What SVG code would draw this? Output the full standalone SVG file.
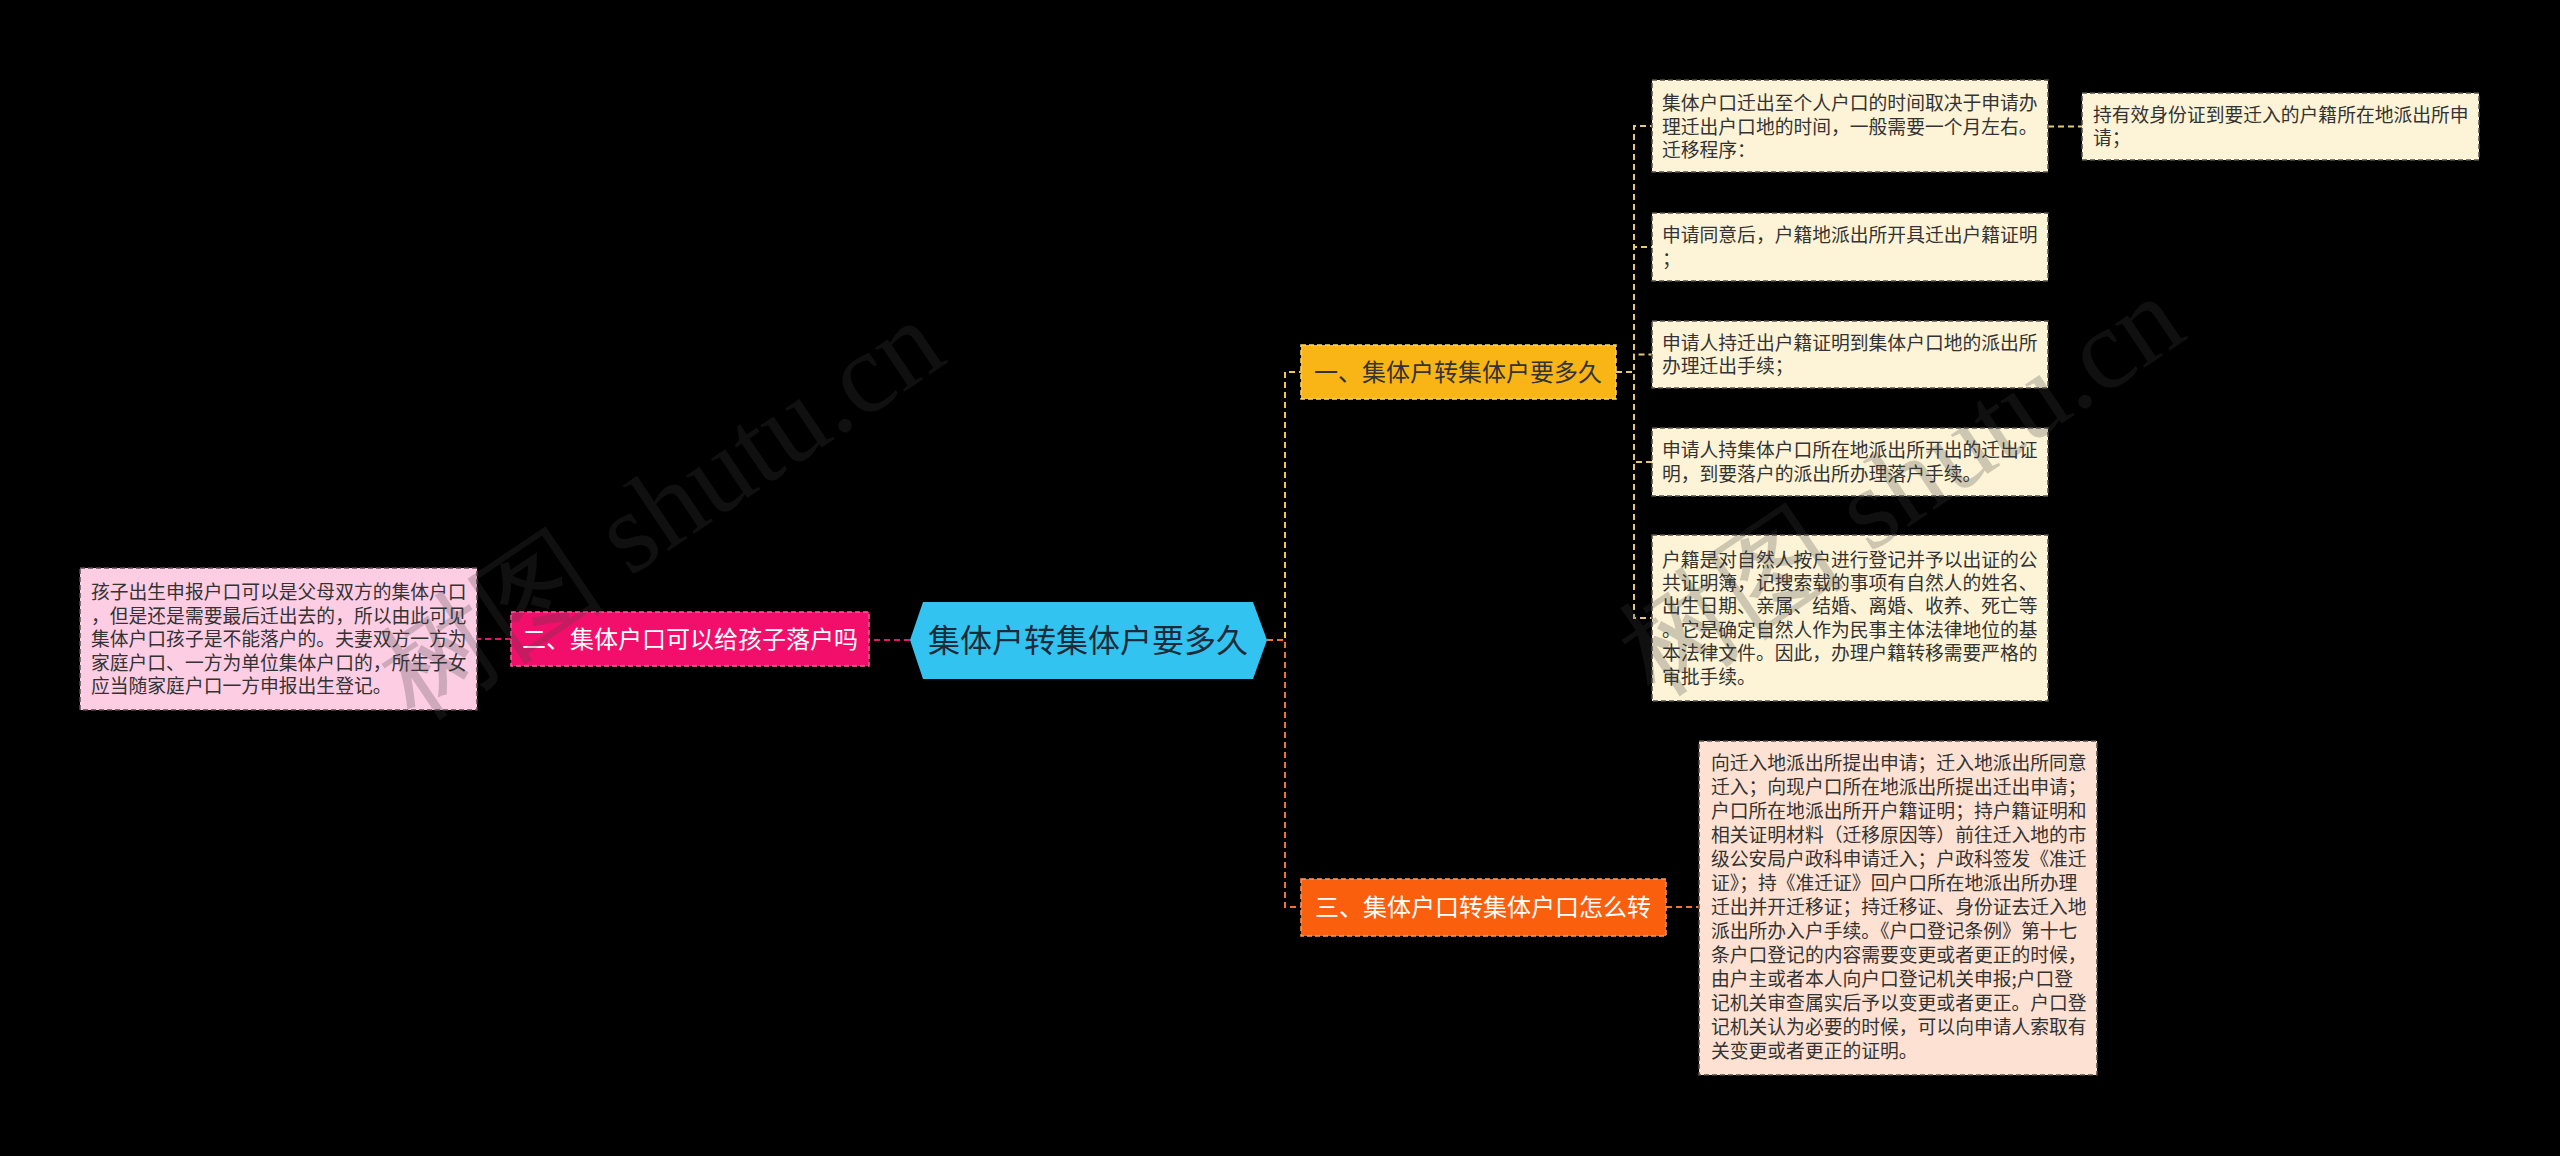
<svg xmlns="http://www.w3.org/2000/svg" width="2560" height="1156" viewBox="0 0 2560 1156">
<style>
.t{font-family:"Noto Sans CJK SC","Noto Sans",sans-serif;}
.leaf{font-size:18.8px;fill:#333333;}
.node{font-size:24px;text-anchor:middle;}
.lf-y{fill:#fdf3d6;stroke:#555048;stroke-width:1.5;stroke-dasharray:5 3;}
.lf-o{fill:#fde1d2;stroke:#5a4a44;stroke-width:1.5;stroke-dasharray:5 3;}
.lf-p{fill:#fdcde4;stroke:#5a4a50;stroke-width:1.5;stroke-dasharray:5 3;}
.c{fill:none;stroke-width:2;stroke-dasharray:6 4;}
.cy{stroke:#f2c744;}
.cl{stroke:#e6c777;}
.co{stroke:#ef7433;}
.cp{stroke:#e3186c;}
.wm{font-family:"Liberation Serif",serif;font-size:115px;fill:#404040;fill-opacity:0.25;}
</style>
<rect x="0" y="0" width="2560" height="1156" fill="#000000"/>
<g id="connectors">
<path class="c cp" d="M910,640 H869"/>
<path class="c cp" d="M511,639 H477"/>
<path class="c cy" d="M1267,640 H1285 V372 H1301"/>
<path class="c co" d="M1267,640 H1285 V907 H1301"/>
<path class="c cl" d="M1616,372 H1634 V126 H1652"/>
<path class="c cl" d="M1616,372 H1634 V247 H1652"/>
<path class="c cl" d="M1616,372 H1634 V354.5 H1652"/>
<path class="c cl" d="M1616,372 H1634 V462 H1652"/>
<path class="c cl" d="M1616,372 H1634 V618 H1652"/>
<path class="c cl" d="M2048,126.5 H2082"/>
<path class="c co" d="M1666,907 H1699"/>
</g>
<g id="root">
<polygon points="910,640 923,602 1253,602 1267,640 1253,679 923,679" fill="#33c3f1"/>
<text class="t" x="1088" y="652" font-size="32" text-anchor="middle" fill="#1b2b3a">集体户转集体户要多久</text>
</g>
<g id="n2">
<rect x="511" y="612" width="358" height="54" fill="#f20f6b" stroke="#ff5e9e" stroke-width="1.5" stroke-dasharray="5 3"/>
<text class="t node" x="690" y="648" fill="#ffffff">二、集体户口可以给孩子落户吗</text>
</g>
<g id="n2-leaf">
<rect class="lf-p" x="80" y="568" width="397" height="142"/>
<text class="t leaf" x="91"><tspan x="91" y="599">孩子出生申报户口可以是父母双方的集体户口</tspan><tspan x="91" y="622.5">，但是还是需要最后迁出去的，所以由此可见</tspan><tspan x="91" y="646">集体户口孩子是不能落户的。夫妻双方一方为</tspan><tspan x="91" y="669.5">家庭户口、一方为单位集体户口的，所生子女</tspan><tspan x="91" y="693">应当随家庭户口一方申报出生登记。</tspan></text>
</g>
<g id="n1">
<rect x="1301" y="345" width="315" height="54" fill="#f8b515" stroke="#ffd86a" stroke-width="1.5" stroke-dasharray="5 3"/>
<text class="t node" x="1458" y="381" fill="#333333">一、集体户转集体户要多久</text>
</g>
<g id="n3">
<rect x="1301" y="879" width="365" height="57" fill="#fa5f0e" stroke="#ff9a5e" stroke-width="1.5" stroke-dasharray="5 3"/>
<text class="t node" x="1483" y="916" fill="#ffffff">三、集体户口转集体户口怎么转</text>
</g>
<g id="l1">
<rect class="lf-y" x="1652" y="80" width="396" height="92"/>
<text class="t leaf"><tspan x="1662" y="110">集体户口迁出至个人户口的时间取决于申请办</tspan><tspan x="1662" y="133.5">理迁出户口地的时间，一般需要一个月左右。</tspan><tspan x="1662" y="157">迁移程序：</tspan></text>
</g>
<g id="l1c">
<rect class="lf-y" x="2082" y="93" width="397" height="67"/>
<text class="t leaf"><tspan x="2093" y="121.8">持有效身份证到要迁入的户籍所在地派出所申</tspan><tspan x="2093" y="145.2">请；</tspan></text>
</g>
<g id="l2">
<rect class="lf-y" x="1652" y="213" width="396" height="68"/>
<text class="t leaf"><tspan x="1662" y="242.3">申请同意后，户籍地派出所开具迁出户籍证明</tspan><tspan x="1662" y="265.7">；</tspan></text>
</g>
<g id="l3">
<rect class="lf-y" x="1652" y="321" width="396" height="67"/>
<text class="t leaf"><tspan x="1662" y="349.8">申请人持迁出户籍证明到集体户口地的派出所</tspan><tspan x="1662" y="373.2">办理迁出手续；</tspan></text>
</g>
<g id="l4">
<rect class="lf-y" x="1652" y="428" width="396" height="68"/>
<text class="t leaf"><tspan x="1662" y="457.3">申请人持集体户口所在地派出所开出的迁出证</tspan><tspan x="1662" y="480.7">明，到要落户的派出所办理落户手续。</tspan></text>
</g>
<g id="l5">
<rect class="lf-y" x="1652" y="535" width="396" height="166"/>
<text class="t leaf"><tspan x="1662" y="566.5">户籍是对自然人按户进行登记并予以出证的公</tspan><tspan x="1662" y="589.9">共证明簿，记搜索载的事项有自然人的姓名、</tspan><tspan x="1662" y="613.3">出生日期、亲属、结婚、离婚、收养、死亡等</tspan><tspan x="1662" y="636.7">。它是确定自然人作为民事主体法律地位的基</tspan><tspan x="1662" y="660.1">本法律文件。因此，办理户籍转移需要严格的</tspan><tspan x="1662" y="683.5">审批手续。</tspan></text>
</g>
<g id="l3-leaf">
<rect class="lf-o" x="1699" y="741" width="398" height="334"/>
<text class="t leaf"><tspan x="1711" y="770">向迁入地派出所提出申请；迁入地派出所同意</tspan><tspan x="1711" y="794">迁入；向现户口所在地派出所提出迁出申请；</tspan><tspan x="1711" y="818">户口所在地派出所开户籍证明；持户籍证明和</tspan><tspan x="1711" y="842">相关证明材料（迁移原因等）前往迁入地的市</tspan><tspan x="1711" y="866">级公安局户政科申请迁入；户政科签发《准迁</tspan><tspan x="1711" y="890">证》；持《准迁证》回户口所在地派出所办理</tspan><tspan x="1711" y="914">迁出并开迁移证；持迁移证、身份证去迁入地</tspan><tspan x="1711" y="938">派出所办入户手续。《户口登记条例》第十七</tspan><tspan x="1711" y="962">条户口登记的内容需要变更或者更正的时候，</tspan><tspan x="1711" y="986">由户主或者本人向户口登记机关申报;户口登</tspan><tspan x="1711" y="1010">记机关审查属实后予以变更或者更正。户口登</tspan><tspan x="1711" y="1034">记机关认为必要的时候，可以向申请人索取有</tspan><tspan x="1711" y="1058">关变更或者更正的证明。</tspan></text>
</g>
<g id="watermarks">
<text class="wm" transform="translate(415,722) rotate(-34)">树图 shutu.cn</text>
<text class="wm" transform="translate(1655,698) rotate(-34)">树图 shutu.cn</text>
</g>
</svg>
